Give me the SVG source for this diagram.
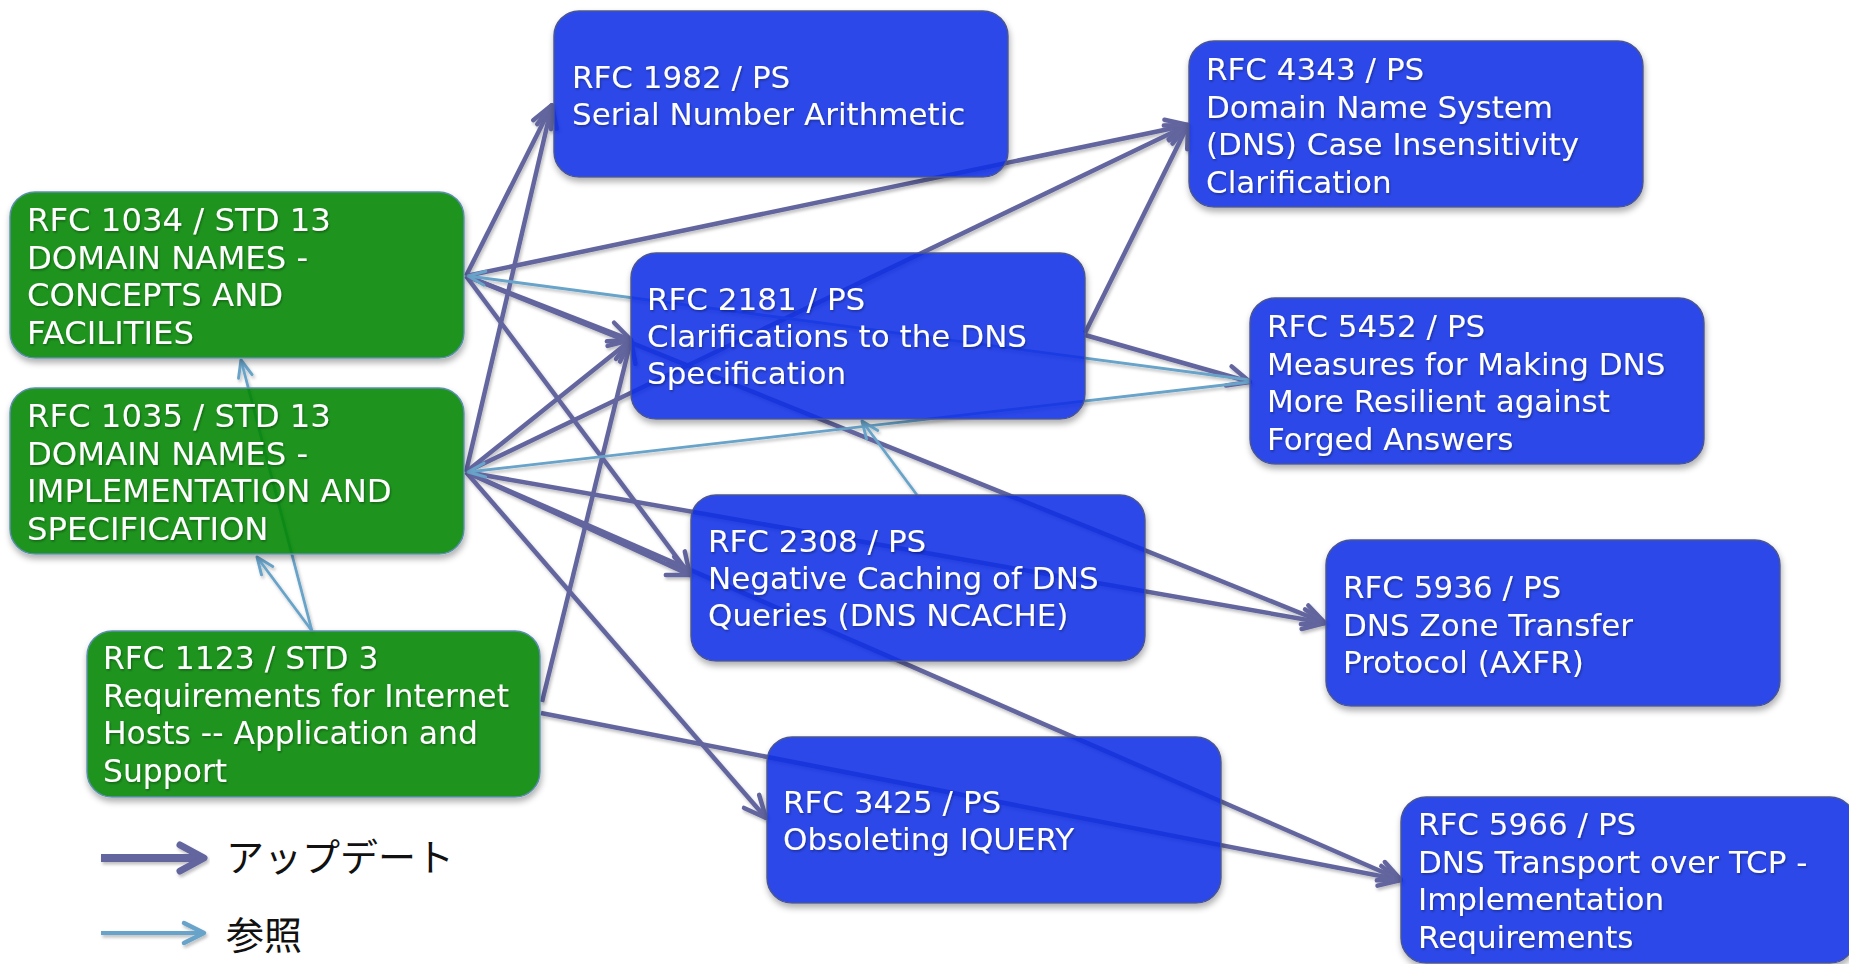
<svg xmlns="http://www.w3.org/2000/svg" width="1849" height="964" viewBox="0 0 1849 964">
<style>
.upd{stroke:#62659e;stroke-width:4.5;fill:none;marker-end:url(#mu)}
.ref{stroke:#68a3c9;stroke-width:2.8;fill:none;marker-end:url(#mr)}
.blue rect{fill:#0a2fe6;fill-opacity:0.87;stroke:#4b5590;stroke-width:1.5;filter:url(#sh)}
.green rect{fill:#058505;fill-opacity:0.88;stroke:#5b8fae;stroke-width:1.5;filter:url(#sh)}
.node text{font-family:"DejaVu Sans",Verdana,sans-serif;font-size:31px;fill:#ffffff;filter:url(#ts)}
.green text{font-size:32.3px}
#n1123 text{font-size:31.4px}
.leg{font-family:"Noto Sans CJK JP","Noto Sans",sans-serif;font-size:38px;fill:#111111}
</style>
<defs>
<marker id="mu" markerUnits="userSpaceOnUse" viewBox="0 0 28 28" markerWidth="28" markerHeight="28" refX="26" refY="14" orient="auto">
<path d="M4,4 L26,14 L4,24" fill="none" stroke="#62659e" stroke-width="4.5" stroke-linecap="round" stroke-linejoin="round"/>
</marker>
<marker id="mr" markerUnits="userSpaceOnUse" viewBox="0 0 22 22" markerWidth="22" markerHeight="22" refX="20" refY="11" orient="auto">
<path d="M3,4 L20,11 L3,18" fill="none" stroke="#68a3c9" stroke-width="3" stroke-linecap="round" stroke-linejoin="round"/>
</marker>
<filter id="sh" x="-10%" y="-10%" width="120%" height="135%">
<feGaussianBlur in="SourceAlpha" stdDeviation="3"/>
<feOffset dx="1" dy="4" result="b"/>
<feFlood flood-color="#000" flood-opacity="0.35"/>
<feComposite in2="b" operator="in" result="s"/>
<feComposite in="s" in2="SourceAlpha" operator="out" result="s2"/>
<feMerge><feMergeNode in="s2"/><feMergeNode in="SourceGraphic"/></feMerge>
</filter>
<filter id="ts" x="-5%" y="-20%" width="110%" height="150%">
<feDropShadow dx="1" dy="1.5" stdDeviation="1" flood-color="#000" flood-opacity="0.35"/>
</filter>
<filter id="ls" x="-5%" y="-5%" width="110%" height="115%">
<feDropShadow dx="1.5" dy="2.5" stdDeviation="1.5" flood-color="#000" flood-opacity="0.25"/>
</filter>
</defs>
<rect width="1849" height="964" fill="#ffffff"/>

<g id="connectors" filter="url(#ls)">
<line class="upd" x1="466" y1="276" x2="552" y2="105"/>
<line class="upd" x1="466" y1="472" x2="552" y2="105"/>
<line class="upd" x1="466" y1="276" x2="1188" y2="125"/>
<line class="upd" x1="466" y1="472" x2="1188" y2="125"/>
<line class="upd" x1="1085" y1="333" x2="1188" y2="125"/>
<line class="upd" x1="466" y1="276" x2="631" y2="340"/>
<line class="upd" x1="466" y1="472" x2="631" y2="340"/>
<line class="upd" x1="542" y1="702" x2="631" y2="340"/>
<line class="upd" x1="466" y1="276" x2="690" y2="575"/>
<line class="upd" x1="466" y1="472" x2="690" y2="575"/>
<line class="upd" x1="466" y1="276" x2="1325" y2="623"/>
<line class="upd" x1="466" y1="472" x2="1325" y2="623"/>
<line class="upd" x1="466" y1="472" x2="766" y2="818"/>
<line class="upd" x1="541" y1="713" x2="1401" y2="880"/>
<line class="upd" x1="466" y1="472" x2="1401" y2="880"/>
<line class="upd" x1="1085" y1="335" x2="1250" y2="382"/>
<line class="ref" x1="1250" y1="380" x2="468" y2="276"/>
<line class="ref" x1="1250" y1="382" x2="468" y2="472"/>
<line class="ref" x1="917" y1="495" x2="862" y2="421"/>
<line class="ref" x1="312" y1="631" x2="241" y2="360"/>
<line class="ref" x1="312" y1="631" x2="257" y2="557"/>
</g>

<g id="n1982" class="node blue">
<rect x="554" y="11" width="454" height="166" rx="25"/>
<text><tspan x="572" y="88">RFC 1982 / PS</tspan><tspan x="572" y="125">Serial Number Arithmetic</tspan></text>
</g>
<g id="n4343" class="node blue">
<rect x="1189" y="41" width="454" height="166" rx="25"/>
<text><tspan x="1206" y="80">RFC 4343 / PS</tspan><tspan x="1206" y="117.5">Domain Name System</tspan><tspan x="1206" y="155">(DNS) Case Insensitivity</tspan><tspan x="1206" y="192.5">Clarification</tspan></text>
</g>
<g id="n1034" class="node green">
<rect x="10" y="192" width="454" height="166" rx="25"/>
<text><tspan x="27" y="231">RFC 1034 / STD 13</tspan><tspan x="27" y="268.5">DOMAIN NAMES -</tspan><tspan x="27" y="306">CONCEPTS AND</tspan><tspan x="27" y="343.5">FACILITIES</tspan></text>
</g>
<g id="n2181" class="node blue">
<rect x="631" y="253" width="454" height="166" rx="25"/>
<text><tspan x="647" y="310">RFC 2181 / PS</tspan><tspan x="647" y="347">Clarifications to the DNS</tspan><tspan x="647" y="384">Specification</tspan></text>
</g>
<g id="n5452" class="node blue">
<rect x="1250" y="298" width="454" height="166" rx="25"/>
<text><tspan x="1267" y="337">RFC 5452 / PS</tspan><tspan x="1267" y="374.5">Measures for Making DNS</tspan><tspan x="1267" y="412">More Resilient against</tspan><tspan x="1267" y="449.5">Forged Answers</tspan></text>
</g>
<g id="n1035" class="node green">
<rect x="10" y="388" width="454" height="166" rx="25"/>
<text><tspan x="27" y="427">RFC 1035 / STD 13</tspan><tspan x="27" y="464.5">DOMAIN NAMES -</tspan><tspan x="27" y="502">IMPLEMENTATION AND</tspan><tspan x="27" y="539.5">SPECIFICATION</tspan></text>
</g>
<g id="n2308" class="node blue">
<rect x="691" y="495" width="454" height="166" rx="25"/>
<text><tspan x="708" y="552">RFC 2308 / PS</tspan><tspan x="708" y="589">Negative Caching of DNS</tspan><tspan x="708" y="626">Queries (DNS NCACHE)</tspan></text>
</g>
<g id="n5936" class="node blue">
<rect x="1326" y="540" width="454" height="166" rx="25"/>
<text><tspan x="1343" y="598">RFC 5936 / PS</tspan><tspan x="1343" y="635.5">DNS Zone Transfer</tspan><tspan x="1343" y="673">Protocol (AXFR)</tspan></text>
</g>
<g id="n1123" class="node green">
<rect x="87" y="631" width="453" height="166" rx="25"/>
<text><tspan x="103" y="669">RFC 1123 / STD 3</tspan><tspan x="103" y="706.5">Requirements for Internet</tspan><tspan x="103" y="744">Hosts -- Application and</tspan><tspan x="103" y="781.5">Support</tspan></text>
</g>
<g id="n3425" class="node blue">
<rect x="767" y="737" width="454" height="166" rx="25"/>
<text><tspan x="783" y="813">RFC 3425 / PS</tspan><tspan x="783" y="850">Obsoleting IQUERY</tspan></text>
</g>
<g id="n5966" class="node blue">
<rect x="1401" y="797" width="454" height="166" rx="25"/>
<text><tspan x="1418" y="835">RFC 5966 / PS</tspan><tspan x="1418" y="872.5">DNS Transport over TCP -</tspan><tspan x="1418" y="910">Implementation</tspan><tspan x="1418" y="947.5">Requirements</tspan></text>
</g>

<g id="legend">
<g filter="url(#ls)">
<path d="M101,858 L203,858" stroke="#62659e" stroke-width="8" fill="none"/>
<path d="M180,845 L204,858 L180,871" stroke="#62659e" stroke-width="7" fill="none" stroke-linecap="round" stroke-linejoin="round"/>
<path d="M101,933 L203,933" stroke="#68a3c9" stroke-width="4" fill="none"/>
<path d="M184,923 L204,933 L184,943" stroke="#68a3c9" stroke-width="4.5" fill="none" stroke-linecap="round" stroke-linejoin="round"/>
</g>
<text class="leg" x="226" y="871">アップデート</text>
<text class="leg" x="226" y="949">参照</text>
</g>
</svg>
